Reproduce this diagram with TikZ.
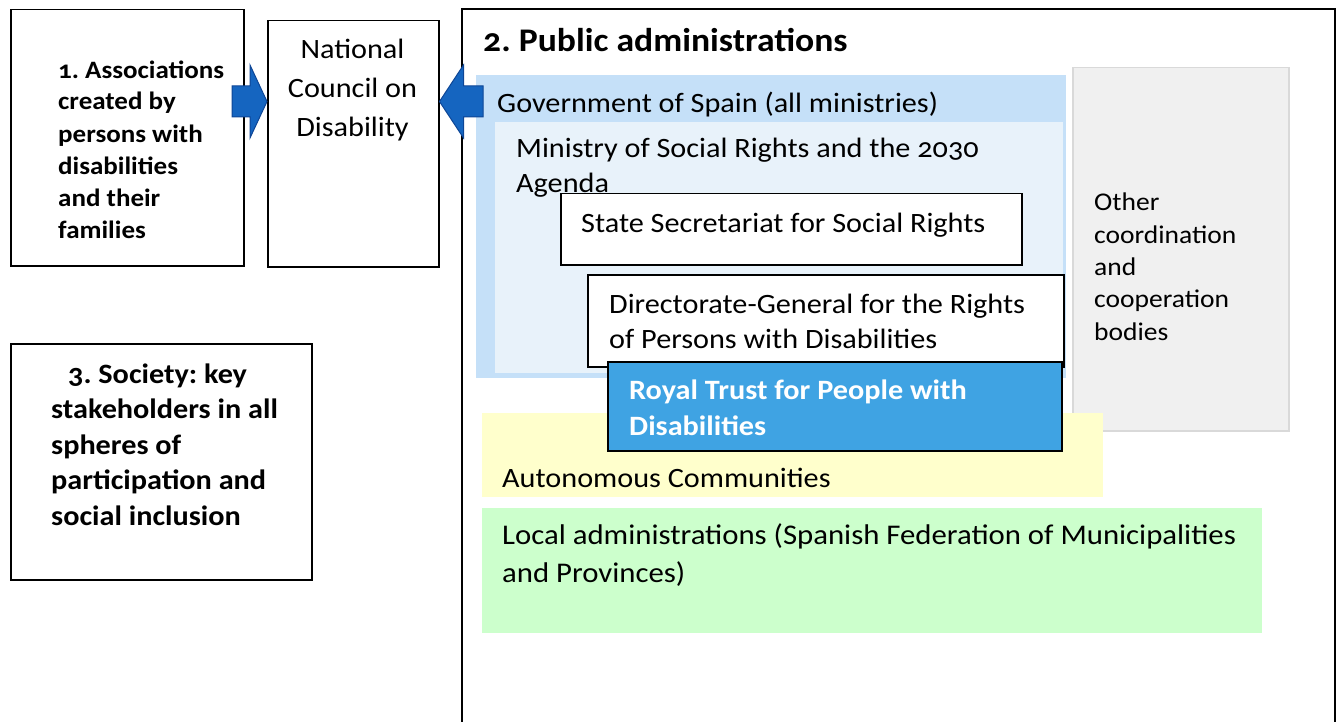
\documentclass[tikz,border=0pt]{standalone}
\usepackage{fontspec}
\setmainfont{Carlito}[Numbers=OldStyle, FakeStretch=1.08]
\usetikzlibrary{calc}
\definecolor{arrowblue}{RGB}{21,101,192}
\definecolor{arrowedge}{RGB}{14,70,150}
\definecolor{govblue}{RGB}{197,224,248}
\definecolor{minblue}{RGB}{232,242,250}
\definecolor{trustblue}{RGB}{63,163,227}
\definecolor{autoyellow}{RGB}{255,255,204}
\definecolor{localgreen}{RGB}{204,255,204}
\definecolor{othergray}{RGB}{240,240,240}
\definecolor{othergrayedge}{RGB}{217,217,217}
\tikzset{
  box/.style={draw=black, line width=1.5pt, inner sep=0, anchor=north west},
  band/.style={inner sep=0, anchor=north west},
  txt/.style={inner sep=0, anchor=base west, align=left},
  blockarrow/.style={fill=arrowblue, draw=arrowedge, line width=1pt, line join=miter},
}
\def\blockarrow(#1)(#2)(#3){\draw[blockarrow] ($(#1)+(0,-15.5)$) -- ($(#2)+(#3,-15.5)$) -- ($(#2)+(#3,-36.5)$) -- (#2) -- ($(#2)+(#3,36.5)$) -- ($(#2)+(#3,15.5)$) -- ($(#1)+(0,15.5)$) -- cycle;}
\frenchspacing

\begin{document}
\begin{tikzpicture}[x=1pt, y=-1pt]
		%%%%% START %%%%%
		\useasboundingbox (0,0) rectangle (1341,722);
		
		% text nodes sit on the baseline of their last line
		\node[box, minimum width=233, minimum height=256] (assoc) at (10,9) {};
		\node[txt, font=\bfseries\fontsize{25}{32}\selectfont] (assoctext) at (58,238) {1. Associations\\created by\\persons with\\disabilities\\and their\\families};
		
		\node[box, minimum width=171, minimum height=246] (ncd) at (267,20) {};
		\node[txt, align=center, anchor=base, font=\fontsize{28}{39}\selectfont] (ncdtext) at (352.5,137) {National\\Council on\\Disability};
		
		\node[box, minimum width=301, minimum height=236] (society) at (10,343) {};
		\node[txt, font=\bfseries\fontsize{28}{35.5}\selectfont] (societytext) at (51,525) {\hspace*{17pt}3. Society: key\\stakeholders in all\\spheres of\\participation and\\social inclusion};
		
		% public administrations, open at the bottom
		\draw[line width=1.5pt] (462,722) -- (462,9) -- (1335,9) -- (1335,722);
		\node[txt, font=\bfseries\fontsize{33}{36}\selectfont] (admintitle) at (483,52) {2. Public administrations};
		
		\node[band, fill=govblue, minimum width=590, minimum height=303] (gov) at (476,75) {};
		\node[band, fill=minblue, minimum width=568, minimum height=251] (ministry) at (495,122) {};
		\node[txt, font=\fontsize{28}{35}\selectfont] (govtext) at (497,113) {Government of Spain (all ministries)};
		\node[txt, font=\fontsize{28}{35}\selectfont] (ministrytext) at (516,193) {Ministry of Social Rights and the 2030\\Agenda};
		
		\node[band, fill=othergray, draw=othergrayedge, line width=1.5pt, minimum width=216, minimum height=363] (other) at (1072,67) {};
		\node[txt, font=\fontsize{25.5}{32.3}\selectfont] (othertext) at (1094,340) {Other\\coordination\\and\\cooperation\\bodies};
		
		\node[band, fill=autoyellow, minimum width=621, minimum height=84] (auto) at (482,413) {};
		\node[txt, font=\fontsize{28}{35}\selectfont] (autotext) at (502,487) {Autonomous Communities};
		
		\node[band, fill=localgreen, minimum width=780, minimum height=125] (local) at (482,508) {};
		\node[txt, font=\fontsize{28.5}{38}\selectfont] (localtext) at (502,582) {Local administrations (Spanish Federation of Municipalities\\and Provinces)};
		
		\node[box, fill=white, minimum width=461, minimum height=71] (secretariat) at (560,193) {};
		\node[txt, font=\fontsize{28}{35}\selectfont] (secretariattext) at (581,233) {State Secretariat for Social Rights};
		
		\node[box, fill=white, minimum width=476, minimum height=92] (dg) at (587,274) {};
		\node[txt, font=\fontsize{28}{35}\selectfont] (dgtext) at (609,348) {Directorate-General for the Rights\\of Persons with Disabilities};
		
		\node[box, fill=trustblue, minimum width=454, minimum height=89] (trust) at (607,361) {};
		\node[txt, text=white, font=\bfseries\fontsize{28}{36}\selectfont] (trusttext) at (629,435) {Royal Trust for People with\\Disabilities};
		
		% arrows into the council
		\coordinate (a1) at (232,101.5);
		\coordinate (t1) at (ncd.west |- a1);
		\blockarrow(a1)(t1)(-17)
		\coordinate (a2) at (483,101.5);
		\coordinate (t2) at (ncd.east |- a2);
		\blockarrow(a2)(t2)(24)
		
		%%%%% END %%%%%
	\end{tikzpicture}
\end{document}
